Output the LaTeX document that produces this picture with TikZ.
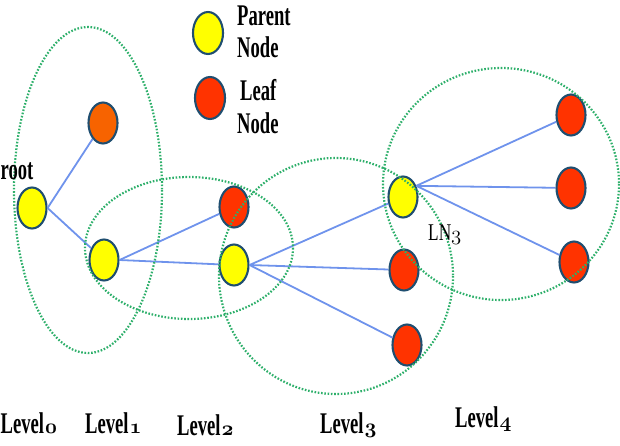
\documentclass[tikz,border=0pt]{standalone}
\usepackage{fontspec}
\setmainfont{Liberation Serif}[FakeStretch=0.62]
\newfontfamily\lnfont{Liberation Serif}[FakeStretch=0.72]
\usetikzlibrary{shapes.geometric}
\newcommand{\osnum}[1]{{\fontsize{21}{24}\usefont{OML}{cmm}{b}{it}#1}}
\newcommand{\osnumr}[1]{{\fontsize{22}{24}\usefont{OML}{cmm}{m}{it}#1}}
\definecolor{yel}{HTML}{FFFF00}
\definecolor{leaf}{HTML}{FF3300}
\definecolor{orng}{HTML}{F76300}
\definecolor{rim}{HTML}{1F4E70}
\definecolor{edgec}{HTML}{6F93EC}
\definecolor{grp}{HTML}{2DAF6A}
\tikzset{
  pnode/.style={ellipse, draw=rim, line width=2.1pt, fill=yel, minimum width=29pt, minimum height=41pt, inner sep=0pt},
  lnode/.style={pnode, fill=leaf},
  onode/.style={pnode, fill=orng},
  link/.style={draw=edgec, line width=1.8pt},
  grpring/.style={draw=grp, line width=2.2pt, dash pattern=on 1.6pt off 1.7pt},
  lbl/.style={anchor=base west, inner sep=0pt, font=\bfseries\fontsize{30}{34}\selectfont},
}
\begin{document}
\begin{tikzpicture}[x=1pt,y=-1pt]
\useasboundingbox (0,0) rectangle (620,445);
% nodes
\node[pnode] (root) at (32,208) {};
\node[onode] (l1a) at (103,123) {};
\node[pnode] (l1b) at (104,260) {};
\node[lnode] (l2a) at (234,207) {};
\node[pnode] (l2b) at (234,265) {};
\node[pnode] (l3a) at (403,197) {};
\node[lnode] (l3b) at (404,270) {};
\node[lnode] (l3c) at (407,345) {};
\node[lnode] (l4a) at (571,115) {};
\node[lnode] (l4b) at (571,188) {};
\node[lnode] (l4c) at (574,262) {};
% legend
\node[pnode, minimum width=30pt, minimum height=42pt] (lgp) at (208,33) {};
\node[lnode, minimum width=30pt, minimum height=42pt] (lgl) at (210,98) {};
% edges
\path[link] (root.east) -- (l1a);
\path[link] (root.east) -- (l1b);
\path[link] (l1b.east) -- (l2a);
\path[link] (l1b.east) -- (l2b);
\path[link] (l2b.east) -- (l3a);
\path[link] (l2b.east) -- (l3b);
\path[link] (l2b.east) -- (l3c);
\path[link] (l3a.40) -- (l4a);
\path[link] (l3a.40) -- (l4b);
\path[link] (l3a.40) -- (l4c);
% groups
\draw[grpring] (88,190) ellipse [x radius=74, y radius=163];
\draw[grpring] (189,248) ellipse [x radius=104, y radius=71];
\draw[grpring] (336,276) ellipse [x radius=117, y radius=118];
\draw[grpring] (501,184) ellipse [x radius=118, y radius=116];
% texts
\node[lbl] (tpar) at (237,25) {Parent};
\node[lbl] (tpn) at (237,57) {Node};
\node[lbl] (tleaf) at (240,100) {Leaf};
\node[lbl] (tln) at (237,133) {Node};
\node[lbl] (troot) at (0.5,179) {root};
\node[lbl] (lv0) at (0.5,433) {Level\kern1pt\osnum{0}};
\node[lbl] (lv1) at (85,433) {Level\kern1pt\osnum{1}};
\node[lbl] (lv2) at (177,435) {Level\kern1pt\osnum{2}};
\node[lbl] (lv3) at (320,433) {Level\kern1pt\osnum{3}};
\node[lbl] (lv4) at (455,427) {Level\kern1pt\osnum{4}};
\node[anchor=base west, inner sep=0pt, font=\lnfont\fontsize{24}{28}\selectfont] (ln3) at (428,240) {LN\osnumr{3}};
\end{tikzpicture}
\end{document}
